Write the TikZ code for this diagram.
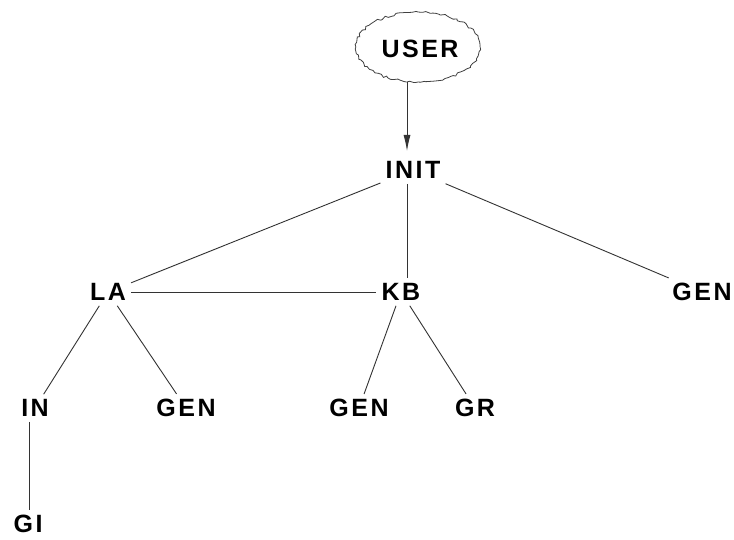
\documentclass[tikz,border=0pt]{standalone}
\usepackage{fontspec}
\setmainfont{Liberation Sans}[LetterSpace=10]
\usetikzlibrary{decorations.pathmorphing,arrows.meta,shapes.geometric}
\begin{document}
\begin{tikzpicture}[x=1pt,y=-1pt,
  lbl/.style={font=\fontsize{25}{25}\selectfont\bfseries, inner sep=5pt},
  conn/.style={draw=black!80, line width=0.9pt},
  tip/.style={-{Latex[length=16pt,width=7pt]}},
  cloudline/.style={draw=black!75, line width=0.8pt, decorate,
    decoration={random steps, segment length=3pt, amplitude=1.2pt}}]
\useasboundingbox (0,0) rectangle (734,540);
\fill[white] (0,0) rectangle (734,540);
\node[lbl] (user) at (420,49) {USER};
\node[lbl] (init) at (413,170) {INIT};
\node[lbl] (la) at (108,292) {LA};
\node[lbl] (kb) at (401,292) {KB};
\node[lbl] (gen1) at (702,292) {GEN};
\node[lbl] (in) at (35,408) {IN};
\node[lbl] (gen2) at (186,408) {GEN};
\node[lbl] (gen3) at (359,408) {GEN};
\node[lbl] (gr) at (475,408) {GR};
\node[lbl] (gi) at (28,524) {GI};
\node[ellipse, minimum width=124pt, minimum height=70pt, cloudline] (cloud) at (418,47) {};
\coordinate (a1) at (407,82);
\coordinate (a2) at (407,151);
\draw[conn, tip] (a1) -- (a2);
\draw[conn] (init) -- (la);
\draw[conn] (init.south -| 407,0) -- (kb.north -| 407,0);
\draw[conn] (init) -- (gen1);
\draw[conn] (la) -- (kb);
\draw[conn] (la) -- (in);
\draw[conn] (la) -- (gen2);
\draw[conn] (kb) -- (gen3);
\draw[conn] (kb) -- (gr);
\draw[conn] (in.south -| 29,0) -- (gi.north -| 29,0);
\end{tikzpicture}
\end{document}
